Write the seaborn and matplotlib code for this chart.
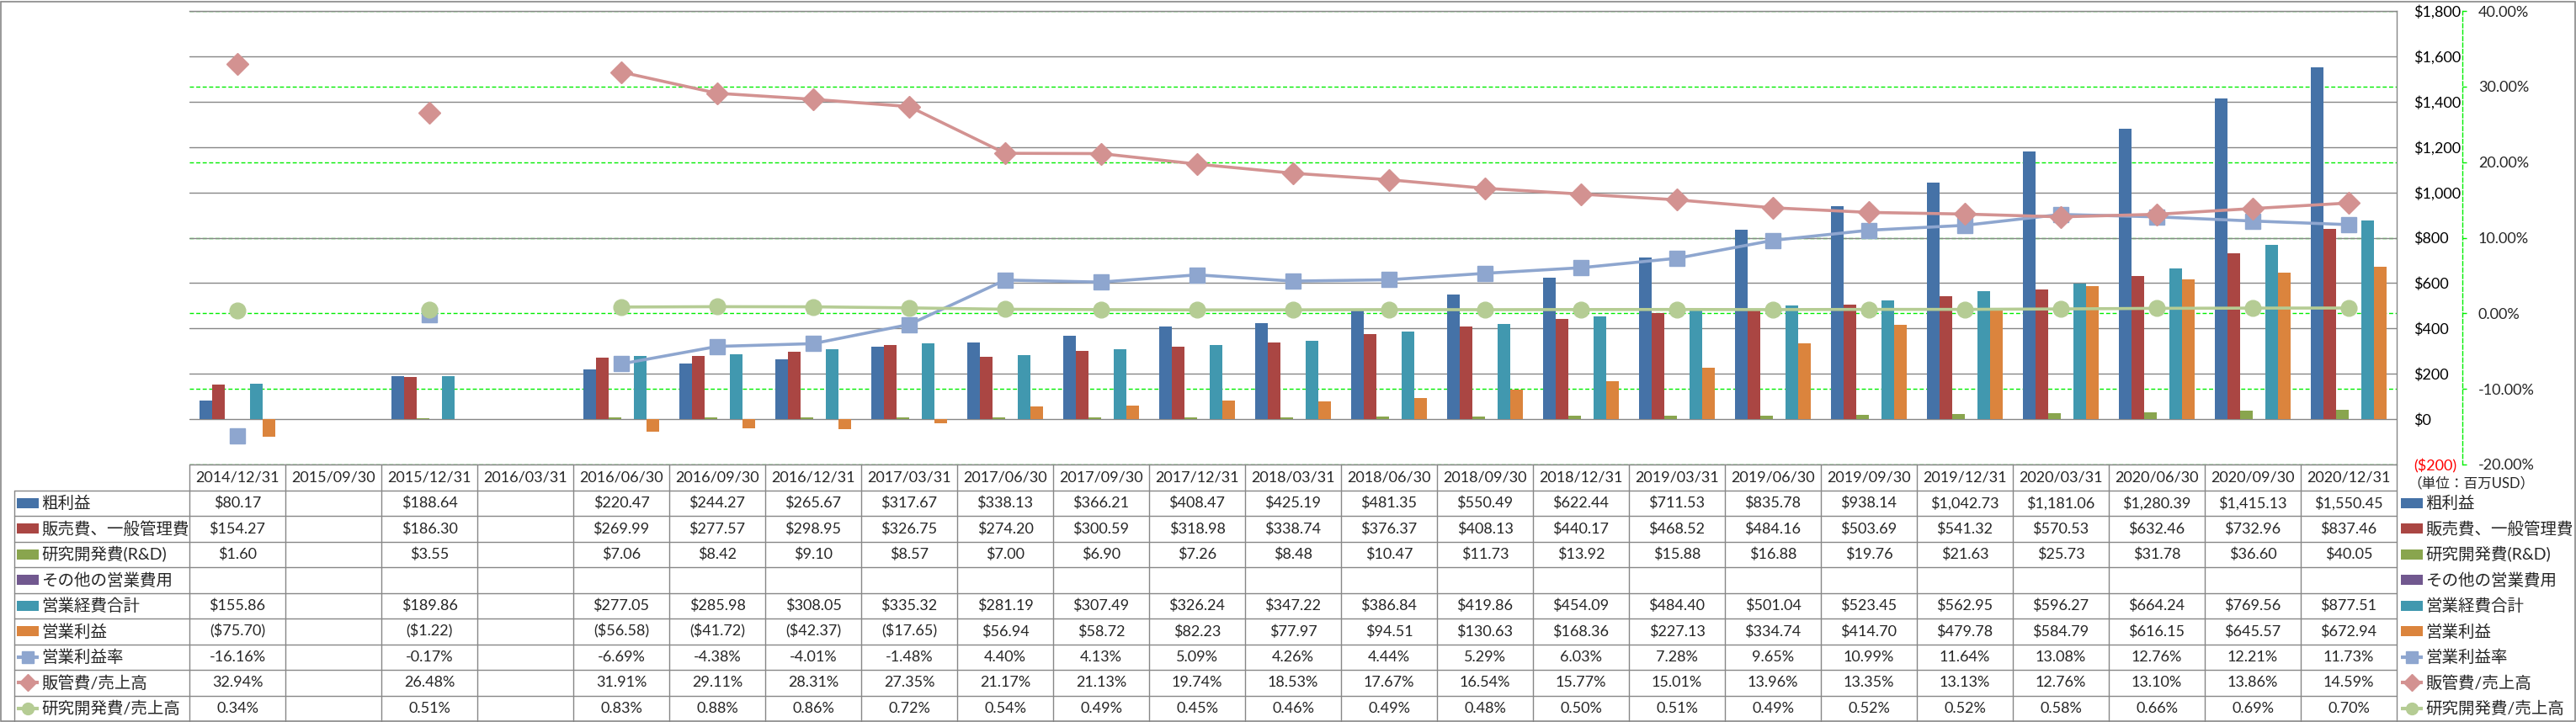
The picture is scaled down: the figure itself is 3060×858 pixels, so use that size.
import numpy as np
import pandas as pd
import matplotlib
matplotlib.use("Agg")
import matplotlib.pyplot as plt
import seaborn as sns
from matplotlib.patches import Rectangle
from matplotlib.transforms import blended_transform_factory

nan = np.nan

# ---------------- data ----------------
dates = ["2014/12/31", "2015/09/30", "2015/12/31", "2016/03/31", "2016/06/30", "2016/09/30",
         "2016/12/31", "2017/03/31", "2017/06/30", "2017/09/30", "2017/12/31", "2018/03/31",
         "2018/06/30", "2018/09/30", "2018/12/31", "2019/03/31", "2019/06/30", "2019/09/30",
         "2019/12/31", "2020/03/31", "2020/06/30", "2020/09/30", "2020/12/31"]

gross_profit = [80.17, nan, 188.64, nan, 220.47, 244.27, 265.67, 317.67, 338.13, 366.21, 408.47, 425.19,
                481.35, 550.49, 622.44, 711.53, 835.78, 938.14, 1042.73, 1181.06, 1280.39, 1415.13, 1550.45]
sga = [154.27, nan, 186.30, nan, 269.99, 277.57, 298.95, 326.75, 274.20, 300.59, 318.98, 338.74,
       376.37, 408.13, 440.17, 468.52, 484.16, 503.69, 541.32, 570.53, 632.46, 732.96, 837.46]
rnd = [1.60, nan, 3.55, nan, 7.06, 8.42, 9.10, 8.57, 7.00, 6.90, 7.26, 8.48,
       10.47, 11.73, 13.92, 15.88, 16.88, 19.76, 21.63, 25.73, 31.78, 36.60, 40.05]
other_opex = [nan] * 23
total_opex = [155.86, nan, 189.86, nan, 277.05, 285.98, 308.05, 335.32, 281.19, 307.49, 326.24, 347.22,
              386.84, 419.86, 454.09, 484.40, 501.04, 523.45, 562.95, 596.27, 664.24, 769.56, 877.51]
op_income = [-75.70, nan, -1.22, nan, -56.58, -41.72, -42.37, -17.65, 56.94, 58.72, 82.23, 77.97,
             94.51, 130.63, 168.36, 227.13, 334.74, 414.70, 479.78, 584.79, 616.15, 645.57, 672.94]
op_margin = [-16.16, nan, -0.17, nan, -6.69, -4.38, -4.01, -1.48, 4.40, 4.13, 5.09, 4.26,
             4.44, 5.29, 6.03, 7.28, 9.65, 10.99, 11.64, 13.08, 12.76, 12.21, 11.73]
sga_ratio = [32.94, nan, 26.48, nan, 31.91, 29.11, 28.31, 27.35, 21.17, 21.13, 19.74, 18.53,
             17.67, 16.54, 15.77, 15.01, 13.96, 13.35, 13.13, 12.76, 13.10, 13.86, 14.59]
rnd_ratio = [0.34, nan, 0.51, nan, 0.83, 0.88, 0.86, 0.72, 0.54, 0.49, 0.45, 0.46,
             0.49, 0.48, 0.50, 0.51, 0.49, 0.52, 0.52, 0.58, 0.66, 0.69, 0.70]

bar_names = ["粗利益", "販売費、一般管理費", "研究開発費(R&D)", "その他の営業費用", "営業経費合計", "営業利益"]
line_names = ["営業利益率", "販管費/売上高", "研究開発費/売上高"]

primary_ticks = [-200, 0, 200, 400, 600, 800, 1000, 1200, 1400, 1600, 1800]
secondary_ticks = [-20, -10, 0, 10, 20, 30, 40]
unit_label = "（単位：百万USD）"

# ---------------- style ----------------
bar_colors = ["#4572A7", "#AA4643", "#89A54E", "#71588F", "#4198AF", "#DB843D"]
line_colors = ["#8EA6CF", "#D39291", "#B5CC94"]
line_markers = ["s", "D", "o"]
line_msizes = [13, 13, 13.5]
GRID = "#878787"
FONTS = ["Lato", "Noto Sans CJK JP", "DejaVu Sans"]

sns.set_style("white")
plt.rcParams["font.family"] = FONTS

W, H, DPI = 3060, 858, 100
PLOT_L, PLOT_R, PLOT_T, PLOT_B = 225, 2847, 13, 552
TAB_L, TAB_B = 17, 857
NCOL = len(dates)
COL_W = (PLOT_R - PLOT_L) / NCOL
NROW = 10
ROW_H = (TAB_B - PLOT_B) / NROW


def px2pt(p):
    return p * 72.0 / DPI


fig = plt.figure(figsize=(W / DPI, H / DPI), dpi=DPI)
fig.patch.set_facecolor("white")

ax = fig.add_axes([PLOT_L / W, 1 - PLOT_B / H, (PLOT_R - PLOT_L) / W, (PLOT_B - PLOT_T) / H])

bar_series = [gross_profit, sga, rnd, other_opex, total_opex, op_income]
rows = []
for name, vals in zip(bar_names, bar_series):
    for d, v in zip(dates, vals):
        rows.append((d, name, v))
df = pd.DataFrame(rows, columns=["date", "series", "value"])

sns.barplot(data=df, x="date", y="value", hue="series", order=dates, hue_order=bar_names,
            palette=dict(zip(bar_names, bar_colors)), width=0.79, saturation=1,
            errorbar=None, legend=False, linewidth=0, ax=ax, zorder=2)

ax.set_xlim(-0.5, NCOL - 0.5)
ax.set_ylim(primary_ticks[0], primary_ticks[-1])
ax.set_xlabel("")
ax.set_ylabel("")
ax.tick_params(axis="x", length=0, labelbottom=False)
ax.set_axisbelow(True)
ax.yaxis.grid(True, color=GRID, lw=1.0)
ax.xaxis.grid(False)

for s in ["left", "bottom"]:
    ax.spines[s].set_visible(False)
for s in ["top", "right"]:
    ax.spines[s].set_color(GRID)
    ax.spines[s].set_linewidth(1.0)

# secondary axis
ax2 = ax.twinx()
ax2.set_ylim(secondary_ticks[0] / 100, secondary_ticks[-1] / 100)
ax2.set_yticks([v / 100 for v in secondary_ticks], labels=[f"{v:.2f}%" for v in secondary_ticks])
for t, v in zip(ax2.get_yticklabels(), secondary_ticks):
    t.set_color("#FF0000" if v < 0 else "black")
ax2.tick_params(axis="y", direction="out", length=3.5, width=1, color="#00EE00", pad=px2pt(14), labelsize=13)
for s in ["left", "bottom", "top"]:
    ax2.spines[s].set_visible(False)
ax2.spines["right"].set_position(("outward", px2pt(2925 - PLOT_R)))
ax2.spines["right"].set_color("#00EE00")
ax2.spines["right"].set_linestyle((0, (3.5, 2)))
ax2.spines["right"].set_linewidth(1.0)


def money(v):
    return f"${v:,.0f}" if v >= 0 else f"(${-v:,.0f})"


# primary tick labels: placed to the right of the plot area (after twinx)
ax.yaxis.tick_right()
ax.set_yticks(primary_ticks, labels=[money(v) for v in primary_ticks])
ax.tick_params(axis="y", which="both", left=False, right=False, labelleft=False, labelright=True,
               length=0, pad=px2pt(20), labelsize=13)
for t, v in zip(ax.get_yticklabels(), primary_ticks):
    t.set_color("#FF0000" if v < 0 else "black")
    t.set_horizontalalignment("left")

# green dashed secondary gridlines, behind bars (drawn on primary axes)
btr = blended_transform_factory(ax.transAxes, ax2.transData)
for v in secondary_ticks:
    ax.plot([0, 1], [v / 100, v / 100], transform=btr, color="#00EE00", lw=1.0,
            ls=(0, (3.5, 2)), zorder=0.5)

x = np.arange(NCOL)
line_series = [op_margin, sga_ratio, rnd_ratio]
for vals, col, mk, ms in zip(line_series, line_colors, line_markers, line_msizes):
    ax2.plot(x, np.array(vals) / 100, color=col, lw=2.6, marker=mk, ms=ms, mfc=col, mec=col,
             solid_joinstyle="round", zorder=3)

# ---------------- data table ----------------
tax = fig.add_axes([TAB_L / W, 1 - TAB_B / H, (W - TAB_L) / W, (TAB_B - PLOT_B) / H])
xl = -0.5 - (PLOT_L - TAB_L) / COL_W
xr = NCOL - 0.5 + (W - PLOT_R) / COL_W
tax.set_xlim(xl, xr)
tax.set_ylim(NROW, 0)
tax.axis("off")

lkw = dict(color=GRID, lw=1.0, clip_on=False)
tax.plot([-0.5, NCOL - 0.5], [0, 0], **lkw)
for r in range(1, NROW):
    tax.plot([xl, NCOL - 0.5], [r, r], **lkw)
for k in range(NCOL + 1):
    tax.plot([k - 0.5, k - 0.5], [0, NROW], **lkw)
tax.plot([xl, xl], [1, NROW], **lkw)

for i, d in enumerate(dates):
    tax.text(i, 0.5, d, ha="center", va="center", fontsize=13)


def fmt_money(v):
    return f"${v:,.2f}" if v >= 0 else f"(${-v:,.2f})"


def fmt_pct(v):
    return f"{v:.2f}%"


all_series = bar_series + line_series
fmts = [fmt_money] * len(bar_series) + [fmt_pct] * len(line_series)
for r, (vals, f) in enumerate(zip(all_series, fmts)):
    for i, v in enumerate(vals):
        if not np.isnan(v):
            tax.text(i, r + 1.5, f(v), ha="center", va="center", fontsize=13)

all_names = bar_names + line_names


def draw_key(x0, r, idx):
    x1 = x0 + 26 / COL_W
    yc = r + 1.5
    if idx < len(bar_names):
        tax.add_patch(Rectangle((x0, yc - 0.19), x1 - x0, 0.38, color=bar_colors[idx], lw=0, clip_on=False))
    else:
        j = idx - len(bar_names)
        tax.plot([x0, x1], [yc, yc], color=line_colors[j], lw=3, clip_on=False, solid_capstyle="butt")
        tax.plot([(x0 + x1) / 2], [yc], marker=line_markers[j], ms=10, color=line_colors[j], clip_on=False)
    tax.text(x1 + 3 / COL_W, yc, all_names[idx], ha="left", va="center", fontsize=14, clip_on=False)


for r in range(len(all_names)):
    draw_key(xl + 3 / COL_W, r, r)
    draw_key(NCOL - 0.5 + 5 / COL_W, r, r)

tax.text(NCOL - 0.5 + 13 / COL_W, 0.72, unit_label, ha="left", va="center", fontsize=12)

# outer chart border
fig.patches.append(Rectangle((0.0003, 0.001), 0.9994, 0.997, transform=fig.transFigure,
                             fill=False, ec=GRID, lw=1.2))

fig.savefig("out.png", dpi=DPI, facecolor="white")
